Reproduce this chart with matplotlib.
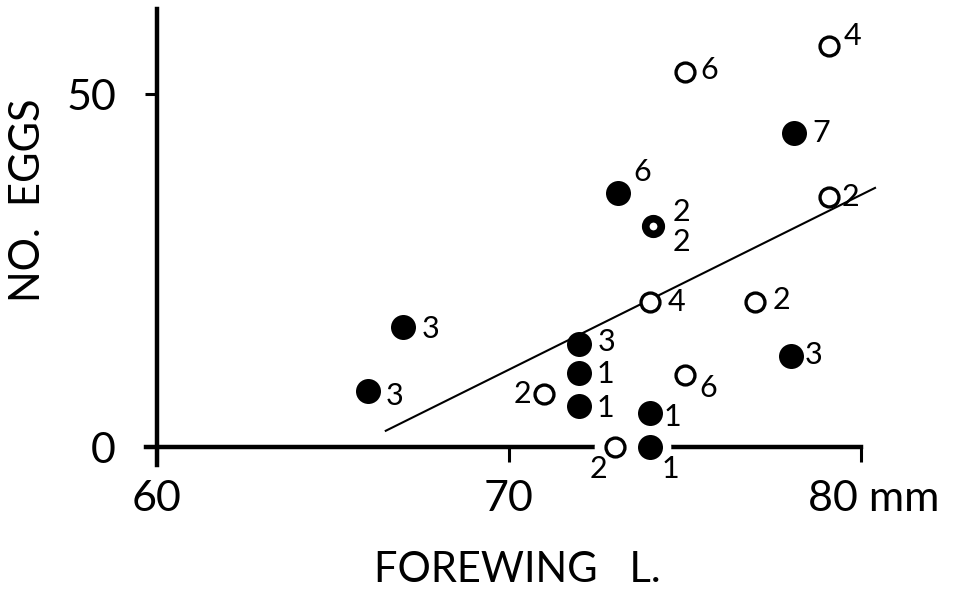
import matplotlib
matplotlib.use("Agg")
import matplotlib.pyplot as plt
import matplotlib.transforms as mtransforms

plt.rcParams['font.family'] = ['Lato', 'DejaVu Sans']

# forewing length (mm) against number of eggs
filled_x = [66, 67, 72, 72, 72, 74, 74, 73.1, 78.1, 78]
filled_y = [8, 17, 14.6, 10.5, 5.8, 4.8, 0, 36, 44.5, 12.9]
filled_n = ['3', '3', '3', '1', '1', '1', '1', '6', '7', '3']

open_x = [75, 79.1, 79.1, 74, 77, 71, 75, 73]
open_y = [53.1, 56.8, 35.4, 20.5, 20.5, 7.5, 10.2, 0]
open_n = ['6', '4', '2', '4', '2', '2', '6', '2']

ring_x = [74.1]
ring_y = [31.3]
ring_n_top = ['2']
ring_n_bottom = ['2']

fit_x = [66.5, 80.4]
fit_y = [2.3, 36.7]

x_ticks = [60, 70, 80]
x_ticklabels = ['60', '70', '80 mm']
y_ticks = [0, 50]
y_ticklabels = ['0', '50']

# label offsets in pixels (dx, dy down, alignment)
filled_off = [(18, 5, 'left'), (18, 2, 'left'), (18, -2, 'left'), (17, 1, 'left'),
              (17, 2, 'left'), (14, 4, 'left'), (12, 22, 'left'), (15, -21, 'left'),
              (18, 0, 'left'), (14, -1, 'left')]
open_off = [(15, -2, 'left'), (14, -10, 'left'), (12, 0, 'left'), (18, 0, 'left'),
            (17, -2, 'left'), (-13, 0, 'right'), (14, 13, 'left'), (-7, 22, 'right')]

fig = plt.figure(figsize=(9.56, 5.92), dpi=100)
ax = fig.add_axes([0.1642, 0.2449, 0.810, 0.7394])
ax.set_xlim(60, 82)
ax.set_ylim(0, 62)

for s in ['top', 'right']:
    ax.spines[s].set_visible(False)
ax.spines['left'].set_linewidth(3.2)
ax.spines['bottom'].set_linewidth(3.2)
ax.spines['left'].set_bounds(-2.6, 62)
ax.spines['bottom'].set_bounds(59.7, 80)

ax.set_xticks(x_ticks)
ax.set_xticklabels(x_ticklabels)
ax.set_yticks(y_ticks)
ax.set_yticklabels(y_ticklabels)
ax.tick_params(axis='x', length=11, width=2.2, pad=13, labelsize=31)
ax.tick_params(axis='y', length=8.5, width=2.2, pad=21, labelsize=31)

lbl = ax.get_xticklabels()[-1]
lbl.set_horizontalalignment('left')
lbl.set_transform(lbl.get_transform() + mtransforms.ScaledTranslation(-0.53, 0, fig.dpi_scale_trans))

# regression line
ax.plot(fit_x, fit_y, color='black', lw=1.5, zorder=2)

# white gap in the x axis around points sitting on zero
zx = [x for x, y in zip(filled_x + open_x, filled_y + open_y) if y == 0]
zy = [0] * len(zx)
ax.plot(zx, zy, 'o', ms=30, color='white', mew=0, zorder=3, clip_on=False)

ax.plot(filled_x, filled_y, 'o', ms=18, color='black', mew=0, zorder=4, clip_on=False)
ax.plot(open_x, open_y, 'o', ms=13.6, mfc='white', mec='black', mew=2.4, zorder=4, clip_on=False)
ax.plot(ring_x, ring_y, 'o', ms=11.2, mfc='white', mec='black', mew=5.5, zorder=4, clip_on=False)

fs = 22
for x, y, n, (dx, dy, ha) in zip(filled_x, filled_y, filled_n, filled_off):
    ax.annotate(n, (x, y), xytext=(dx, -dy), textcoords='offset pixels',
                ha=ha, va='center', fontsize=fs)
for x, y, n, (dx, dy, ha) in zip(open_x, open_y, open_n, open_off):
    ax.annotate(n, (x, y), xytext=(dx, -dy), textcoords='offset pixels',
                ha=ha, va='center', fontsize=fs)
for x, y, nt, nb in zip(ring_x, ring_y, ring_n_top, ring_n_bottom):
    ax.annotate(nt, (x, y), xytext=(19, 14), textcoords='offset pixels',
                ha='left', va='center', fontsize=fs)
    ax.annotate(nb, (x, y), xytext=(19, -16), textcoords='offset pixels',
                ha='left', va='center', fontsize=fs)

fig.text(28 / 956, 1 - 200 / 592, 'NO.  EGGS', rotation=90, fontsize=30,
         ha='center', va='center')
fig.text(517 / 956, 1 - 570 / 592, 'FOREWING   L.', fontsize=30,
         ha='center', va='center')

fig.savefig('out.png', dpi=100)
